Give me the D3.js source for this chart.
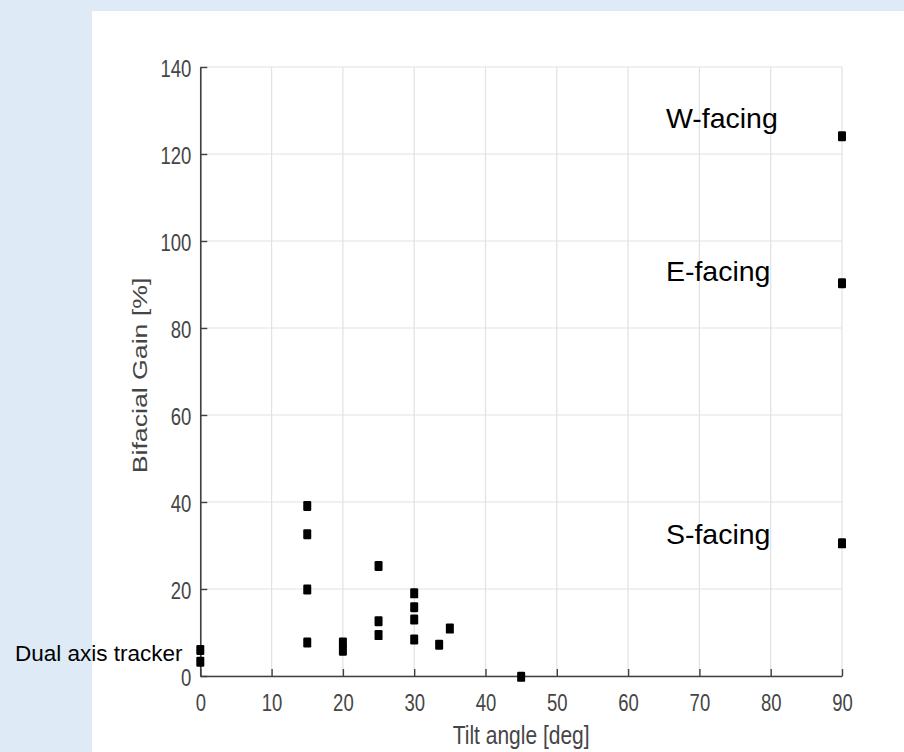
<!DOCTYPE html>
<html>
<head>
<meta charset="utf-8">
<script src="https://cdn.jsdelivr.net/npm/d3@7"></script>
<style>
  html, body { margin: 0; padding: 0; background: #deebf7; }
  svg { display: block; }
</style>
</head>
<body>
<svg id="chart" width="904" height="752"></svg>
<script>
// ---- data ----
const tiltAngles = [0, 0, 15, 15, 15, 15, 20, 20, 25, 25, 25, 30, 30, 30, 30, 33.5, 35, 45, 90, 90, 90];
const bifacialGain = [6.0, 3.3, 39.1, 32.6, 19.9, 7.7, 7.7, 5.8, 25.3, 12.6, 9.4, 19.0, 15.8, 13.0, 8.4, 7.2, 10.9, -0.2, 124.1, 90.3, 30.5];
const xTicks = [0, 10, 20, 30, 40, 50, 60, 70, 80, 90];
const yTicks = [0, 20, 40, 60, 80, 100, 120, 140];
const annotations = [
  { text: "W-facing", x: 65.3, y: 126 },
  { text: "E-facing", x: 65.3, y: 90.8 },
  { text: "S-facing", x: 65.3, y: 30.3 }
];
const trackerLabel = "Dual axis tracker";
const xLabel = "Tilt angle [deg]";
const yLabel = "Bifacial Gain [%]";

// ---- layout ----
const svg = d3.select("#chart");
svg.append("rect").attr("x", 92).attr("y", 11).attr("width", 904 - 92).attr("height", 752 - 11).attr("fill", "#ffffff");

const x = d3.scaleLinear().domain([0, 90]).range([200.3, 842]);
const y = d3.scaleLinear().domain([0, 140]).range([676, 67]);
const K = 1.26; // vertical stretch of original figure text
const axisColor = "#404040";
const font = "'Liberation Sans', Arial, Helvetica, sans-serif";

// grid
const grid = svg.append("g");
grid.selectAll("line.v").data(xTicks).join("line")
  .attr("x1", d => x(d)).attr("x2", d => x(d))
  .attr("y1", y(0)).attr("y2", y(140))
  .attr("stroke", "#e2e2e2").attr("stroke-width", 1.2);
grid.selectAll("line.h").data(yTicks).join("line")
  .attr("x1", x(0)).attr("x2", x(90))
  .attr("y1", d => y(d)).attr("y2", d => y(d))
  .attr("stroke", "#e2e2e2").attr("stroke-width", 1.2);

// axes
const xAxis = svg.append("g").attr("transform", `translate(0,${y(0)})`)
  .call(d3.axisBottom(x).tickValues(xTicks).tickSizeInner(-7).tickSizeOuter(0).tickFormat(d3.format("d")));
const yAxis = svg.append("g").attr("transform", `translate(${x(0)},0)`)
  .call(d3.axisLeft(y).tickValues(yTicks).tickSizeInner(-7).tickSizeOuter(0).tickFormat(d3.format("d")));

[xAxis, yAxis].forEach(a => {
  a.select(".domain").attr("stroke", axisColor).attr("stroke-width", 1.6);
  a.selectAll(".tick line").attr("stroke", axisColor).attr("stroke-width", 1.4);
  a.selectAll(".tick text").attr("fill", "#454545").attr("font-family", font).attr("font-size", 18.5);
});
xAxis.selectAll(".tick text")
  .attr("y", 0).attr("dy", null)
  .attr("transform", `translate(0,35) scale(1,${K})`)
  .attr("text-anchor", "middle");
yAxis.selectAll(".tick text")
  .attr("x", 0).attr("dy", null).attr("y", 0)
  .attr("transform", `translate(-9,9.5) scale(1,${K})`)
  .attr("text-anchor", "end");

// axis labels
svg.append("text")
  .attr("transform", `translate(${(x(0) + x(90)) / 2},744) scale(1,1.2)`)
  .attr("text-anchor", "middle").attr("font-family", font).attr("font-size", 21)
  .attr("fill", "#454545").text(xLabel);
svg.append("text")
  .attr("transform", `translate(147,${(y(0) + y(140)) / 2 + 4}) rotate(-90) scale(1.27,1)`)
  .attr("text-anchor", "middle").attr("font-family", font).attr("font-size", 21)
  .attr("fill", "#454545").text(yLabel);

// markers
const pts = tiltAngles.map((t, i) => ({ t, g: bifacialGain[i] }));
svg.append("g").selectAll("rect").data(pts).join("rect")
  .attr("x", d => x(d.t) - 4).attr("y", d => y(d.g) - 5)
  .attr("width", 8).attr("height", 10).attr("rx", 1.2)
  .attr("fill", "#000");

// annotations
svg.append("g").selectAll("text").data(annotations).join("text")
  .attr("x", d => x(d.x)).attr("y", d => y(d.y))
  .attr("font-family", font).attr("font-size", 28.5).attr("fill", "#000")
  .text(d => d.text);
svg.append("text").attr("x", 15).attr("y", 661)
  .attr("font-family", font).attr("font-size", 22.5).attr("fill", "#000")
  .text(trackerLabel);
</script>
</body>
</html>
